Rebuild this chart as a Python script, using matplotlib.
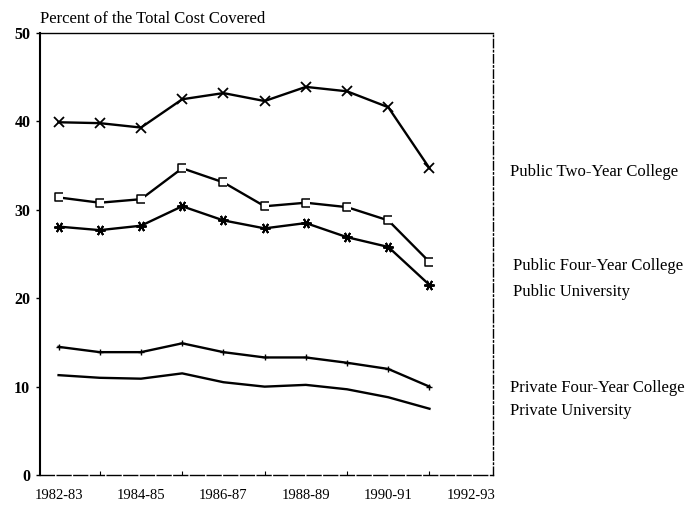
import matplotlib
matplotlib.use("Agg")
import matplotlib.pyplot as plt
from matplotlib.path import Path

plt.rcParams['font.family'] = ['Liberation Serif', 'DejaVu Serif']

# values (percent of total cost covered)
years = list(range(10))   # 1982-83 ... 1991-92
tick_pos = [0, 2, 4, 6, 8, 10]
tick_labels = ['1982-83', '1984-85', '1986-87', '1988-89', '1990-91', '1992-93']

public_two_year = [39.9, 39.8, 39.3, 42.5, 43.2, 42.3, 43.9, 43.4, 41.6, 34.7]
public_four_year = [31.4, 30.8, 31.2, 34.7, 33.1, 30.4, 30.8, 30.3, 28.8, 24.1]
public_university = [28.1, 27.7, 28.2, 30.4, 28.8, 27.9, 28.5, 26.9, 25.8, 21.5]
private_four_year = [14.5, 13.9, 13.9, 14.9, 13.9, 13.3, 13.3, 12.7, 12.0, 10.0]
private_university = [11.3, 11.0, 10.9, 11.5, 10.5, 10.0, 10.2, 9.7, 8.8, 7.5]

series_names = ['Public Two-Year College', 'Public Four-Year College',
                'Public University', 'Private Four-Year College',
                'Private University']

# bracket-like marker used for the public four-year line
bracket = Path([(1, 1), (-1, 1), (-1, -1), (1, -1)],
               [Path.MOVETO, Path.LINETO, Path.LINETO, Path.LINETO])

fig = plt.figure(figsize=(6.9, 5.07), dpi=100)
ax = fig.add_axes([0.058, 0.063, 0.657, 0.872])

ax.plot(years, public_two_year, color='black', lw=1.7, marker='x', ms=6.5, mew=1.3)
ax.plot(years, public_four_year, color='black', lw=1.7, marker=bracket, ms=5.5,
        mew=1.1, mfc='white')
ax.plot(years, public_university, color='black', lw=1.7, marker=(6, 2, 90), ms=7.5, mew=1.4)
ax.plot(years, private_four_year, color='black', lw=1.7, marker='+', ms=5, mew=1.0)
ax.plot(years, private_university, color='black', lw=1.7)

ax.set_xlim(-0.45, 10.55)
ax.set_ylim(0, 50)
ax.set_yticks([0, 10, 20, 30, 40, 50])
ax.tick_params(axis='y', direction='out', length=3, width=1, labelsize=11.5, pad=4)
for lab in ax.get_yticklabels():
    lab.set_fontweight('bold')

ax.set_xticks(tick_pos)
ax.set_xticklabels(tick_labels)
ax.set_xticks(years, minor=True)
ax.tick_params(axis='x', which='major', length=0, labelsize=10.5, pad=10)
ax.tick_params(axis='x', which='minor', direction='in', length=3, width=0.8)

ax.spines['left'].set_linewidth(1.5)
ax.spines['top'].set_linewidth(1.0)
ax.spines['bottom'].set_linewidth(1.0)
ax.spines['bottom'].set_linestyle((0, (10, 2)))
ax.spines['right'].set_linewidth(1.0)
ax.spines['right'].set_linestyle((0, (6, 2, 1, 2)))

fig.text(0.058, 0.963, 'Percent of the Total Cost Covered', fontsize=12,
         ha='left', va='center')

# series names at the right, aligned with the end of each line
label_xy = [(0.739, 0.66), (0.743, 0.475), (0.743, 0.425),
            (0.739, 0.235), (0.739, 0.19)]
for name, (lx, ly) in zip(series_names, label_xy):
    fig.text(lx, ly, name, fontsize=12, ha='left', va='center')

fig.savefig('out.png', dpi=100)
